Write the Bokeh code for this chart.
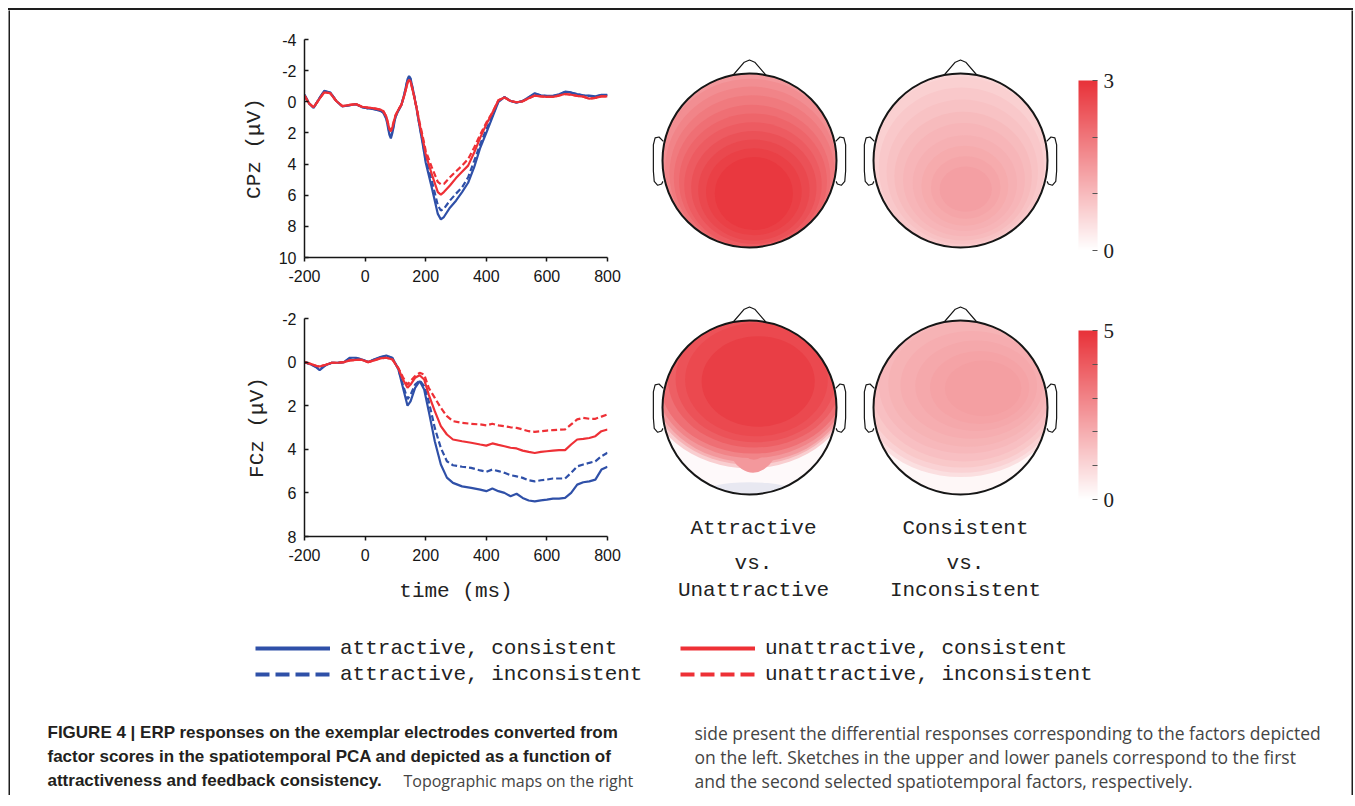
from bokeh.plotting import figure
from bokeh.layouts import column, row
from bokeh.models import (Range1d, SingleIntervalTicker, FixedTicker, LinearColorMapper,
                          ColorBar, Legend, LegendItem, ColumnDataSource, Spacer,
                          PrintfTickFormatter)
from bokeh.core.properties import value
from bokeh.embed import file_html
from bokeh.resources import INLINE

# --- ERP waveforms (uV, positive plotted downwards) ---
t_cpz = [-200, -185, -170, -150, -135, -115, -95, -75, -50, -30,
         -10, 10, 30, 50, 60, 70, 80, 85, 90, 100,
         110, 120, 130, 140, 145, 150, 160, 170, 180, 190,
         200, 220, 240, 250, 260, 280, 300, 320, 340, 360,
         380, 400, 420, 440, 460, 480, 500, 520, 540, 560,
         580, 600, 620, 640, 660, 680, 700, 720, 740, 760,
         780, 800]
cpz_att_con = [-0.45, 0.1, 0.4, -0.25, -0.7, -0.6, -0.05, 0.3, 0.22, 0.15,
               0.35, 0.42, 0.48, 0.58, 0.7, 1.1, 2.1, 2.35, 2.0, 1.0,
               0.55, 0.2, -0.55, -1.45, -1.65, -1.5, -0.6, 0.45, 1.6, 2.7,
               3.9, 5.5, 7.2, 7.55, 7.4, 6.8, 6.35, 5.8, 5.2, 4.2,
               2.95, 2.0, 1.0, 0.0, -0.3, -0.05, 0.05, -0.05, -0.3, -0.55,
               -0.42, -0.38, -0.38, -0.48, -0.65, -0.6, -0.5, -0.42, -0.4, -0.35,
               -0.45, -0.45]
cpz_att_inc = [-0.45, 0.1, 0.38, -0.25, -0.68, -0.58, -0.05, 0.3, 0.22, 0.15,
               0.35, 0.42, 0.47, 0.57, 0.68, 1.05, 1.95, 2.2, 1.9, 0.98,
               0.55, 0.2, -0.52, -1.4, -1.6, -1.45, -0.58, 0.42, 1.55, 2.55,
               3.7, 5.05, 6.65, 6.98, 6.87, 6.34, 5.9, 5.5, 4.85, 3.8,
               2.72, 1.77, 0.9, -0.05, -0.3, -0.05, 0.05, -0.05, -0.28, -0.52,
               -0.4, -0.36, -0.36, -0.46, -0.62, -0.58, -0.48, -0.4, -0.37, -0.33,
               -0.43, -0.43]
cpz_una_con = [-0.4, 0.1, 0.35, -0.2, -0.6, -0.55, -0.05, 0.28, 0.2, 0.15,
               0.32, 0.38, 0.42, 0.5, 0.6, 0.95, 1.75, 1.9, 1.65, 0.9,
               0.5, 0.18, -0.45, -1.2, -1.4, -1.3, -0.5, 0.4, 1.45, 2.35,
               3.35, 4.65, 5.8, 5.96, 5.8, 5.38, 4.9, 4.5, 4.1, 3.26,
               2.3, 1.45, 0.7, -0.1, -0.28, -0.05, 0.03, -0.03, -0.22, -0.4,
               -0.35, -0.32, -0.32, -0.4, -0.5, -0.45, -0.38, -0.33, -0.2, -0.25,
               -0.35, -0.35]
cpz_una_inc = [-0.4, 0.1, 0.35, -0.2, -0.62, -0.55, -0.05, 0.28, 0.2, 0.15,
               0.32, 0.38, 0.42, 0.5, 0.6, 0.95, 1.7, 1.85, 1.6, 0.88,
               0.5, 0.18, -0.45, -1.25, -1.4, -1.3, -0.5, 0.38, 1.35, 2.2,
               3.15, 4.2, 5.15, 5.3, 5.28, 4.85, 4.47, 4.1, 3.68, 2.94,
               2.1, 1.34, 0.7, -0.1, -0.28, -0.05, 0.03, -0.03, -0.22, -0.4,
               -0.35, -0.32, -0.32, -0.4, -0.5, -0.45, -0.38, -0.33, -0.2, -0.25,
               -0.35, -0.35]

t_fcz = [-200, -180, -160, -150, -130, -110, -90, -70, -50, -30,
         -10, 10, 30, 50, 70, 90, 110, 125, 140, 150,
         165, 180, 195, 210, 230, 250, 270, 290, 320, 350,
         380, 400, 420, 440, 460, 480, 500, 520, 540, 560,
         580, 600, 620, 640, 660, 680, 700, 720, 740, 760,
         780, 800]
fcz_att_con = [0.0, 0.1, 0.25, 0.37, 0.14, 0.03, 0.03, 0.0, -0.2, -0.2,
               -0.12, 0.0, -0.12, -0.23, -0.3, -0.2, 0.34, 1.18, 2.0, 1.8,
               1.18, 0.87, 1.26, 2.25, 3.63, 4.7, 5.3, 5.54, 5.7, 5.77,
               5.85, 5.92, 5.8, 5.92, 6.0, 6.15, 6.04, 6.23, 6.35, 6.39,
               6.34, 6.31, 6.26, 6.26, 6.23, 6.0, 5.62, 5.51, 5.47, 5.39,
               4.93, 4.8]
fcz_att_inc = [0.0, 0.1, 0.22, 0.3, 0.14, 0.03, 0.03, 0.0, -0.18, -0.18,
               -0.12, 0.0, -0.12, -0.22, -0.28, -0.18, 0.32, 1.05, 1.7, 1.5,
               1.03, 0.84, 1.1, 1.8, 3.02, 3.94, 4.55, 4.73, 4.8, 4.85,
               4.97, 5.03, 4.93, 5.0, 5.08, 5.19, 5.24, 5.31, 5.42, 5.47,
               5.42, 5.39, 5.34, 5.34, 5.34, 5.08, 4.78, 4.7, 4.62, 4.55,
               4.32, 4.16]
fcz_una_con = [0.0, 0.08, 0.18, 0.2, 0.12, 0.03, 0.03, 0.0, -0.08, -0.1,
               -0.1, 0.0, -0.08, -0.17, -0.2, -0.12, 0.3, 0.8, 1.18, 1.03,
               0.72, 0.6, 0.8, 1.49, 2.25, 2.94, 3.32, 3.55, 3.63, 3.7,
               3.78, 3.83, 3.73, 3.8, 3.86, 3.93, 3.96, 4.06, 4.12, 4.17,
               4.12, 4.09, 4.06, 4.04, 4.04, 3.78, 3.55, 3.52, 3.48, 3.4,
               3.17, 3.09]
fcz_una_inc = [0.0, 0.08, 0.18, 0.2, 0.12, 0.03, 0.03, 0.0, -0.08, -0.1,
               -0.1, 0.0, -0.08, -0.17, -0.2, -0.12, 0.28, 0.7, 1.03, 0.87,
               0.64, 0.49, 0.57, 1.18, 1.64, 2.1, 2.48, 2.71, 2.79, 2.83,
               2.86, 2.9, 2.83, 2.9, 2.94, 2.99, 3.02, 3.09, 3.17, 3.2,
               3.17, 3.14, 3.12, 3.1, 3.09, 2.86, 2.63, 2.56, 2.6, 2.6,
               2.5, 2.4]

conditions = ["attractive, consistent", "attractive, inconsistent",
              "unattractive, consistent", "unattractive, inconsistent"]

# --- scalp maps: iso-levels (centre u,v / radii in head radii, value) ---
tl_u = [0.0, 0.0, 0.01, 0.02, 0.03, 0.03, 0.04, 0.04, 0.05, 0.05, 0.05, 0.05]
tl_v = [0.0, 0.02, 0.06, 0.1, 0.15, 0.2, 0.24, 0.28, 0.31, 0.34, 0.36, 0.38]
tl_rx = [1.3, 1.1, 1.04, 0.99, 0.95, 0.9, 0.85, 0.79, 0.72, 0.64, 0.55, 0.45]
tl_ry = [1.3, 1.08, 1.0, 0.95, 0.9, 0.84, 0.78, 0.72, 0.65, 0.58, 0.5, 0.42]
tl_val = [1.35, 1.5, 1.65, 1.8, 1.95, 2.1, 2.25, 2.4, 2.55, 2.68, 2.8, 2.9]

tr_u = [0.0, 0.0, 0.01, 0.02, 0.03, 0.04, 0.05, 0.05, 0.06, 0.06]
tr_v = [0.0, 0.04, 0.08, 0.13, 0.18, 0.22, 0.26, 0.29, 0.31, 0.33]
tr_rx = [1.3, 1.02, 0.95, 0.87, 0.79, 0.7, 0.6, 0.5, 0.4, 0.3]
tr_ry = [1.3, 1.0, 0.92, 0.83, 0.74, 0.65, 0.55, 0.46, 0.36, 0.26]
tr_val = [0.6, 0.7, 0.8, 0.9, 1.0, 1.08, 1.16, 1.24, 1.32, 1.4]

bl_u = [0.0, 0.0, 0.0, 0.01, 0.02, 0.04, 0.03, 0.05, 0.04, 0.06, 0.07, 0.08, 0.1]
bl_v = [0.0, 0.98, -0.3, -0.31, -0.32, 0.2, -0.33, 0.15, -0.34, -0.34, -0.33, -0.32, -0.3]
bl_rx = [1.3, 0.55, 1.2, 1.17, 1.15, 0.34, 1.12, 0.24, 1.08, 1.0, 0.92, 0.82, 0.65]
bl_ry = [1.3, 0.12, 1.0, 0.97, 0.95, 0.55, 0.91, 0.45, 0.87, 0.8, 0.73, 0.65, 0.52]
bl_val = [0.15, -0.4, 1.2, 1.9, 2.5, 2.5, 3.0, 3.0, 3.5, 3.9, 4.2, 4.45, 4.7]

br_u = [0.0, 0.0, 0.01, 0.02, 0.04, 0.06, 0.09, 0.13, 0.18, 0.22, 0.26]
br_v = [0.0, -0.2, -0.22, -0.24, -0.26, -0.27, -0.27, -0.26, -0.25, -0.23, -0.22]
br_rx = [1.3, 1.2, 1.17, 1.13, 1.07, 1.0, 0.92, 0.82, 0.7, 0.57, 0.44]
br_ry = [1.3, 1.0, 0.97, 0.93, 0.88, 0.8, 0.72, 0.62, 0.52, 0.42, 0.32]
br_val = [0.2, 0.8, 1.1, 1.35, 1.55, 1.72, 1.87, 2.0, 2.12, 2.24, 2.35]

map_titles = ["Attractive", "vs.", "Unattractive", "Consistent", "vs.", "Inconsistent"]

caption_bold = ["FIGURE 4 | ERP responses on the exemplar electrodes converted from",
                "factor scores in the spatiotemporal PCA and depicted as a function of",
                "attractiveness and feedback consistency."]
caption_tail = "Topographic maps on the right"
caption_right = ["side present the differential responses corresponding to the factors depicted",
                 "on the left. Sketches in the upper and lower panels correspond to the first",
                 "and the second selected spatiotemporal factors, respectively."]

BLUE = "#2f50a8"
RED = "#ee3036"
INK = "#161616"
FRAME = "#1e1e1e"
styles = [(BLUE, "solid"), (BLUE, "6 3"), (RED, "solid"), (RED, "6 3")]


def erp_panel(times, curves, y_lo, y_hi, ylabel, left, top, bottom, xlabel=None):
    p = figure(frame_width=303, frame_height=218, min_border_left=left, min_border_right=620 - left - 303,
               min_border_top=top, min_border_bottom=bottom,
               x_range=Range1d(-200, 800), y_range=Range1d(y_hi, y_lo),
               toolbar_location=None, output_backend="svg")
    for ys, (c, d) in zip(curves, styles):
        p.line(times, ys, line_color=c, line_width=2.2, line_dash=d)
    p.xaxis.ticker = SingleIntervalTicker(interval=200, num_minor_ticks=0)
    p.yaxis.ticker = SingleIntervalTicker(interval=2, num_minor_ticks=0)
    for ax in (p.xaxis[0], p.yaxis[0]):
        ax.formatter = PrintfTickFormatter(format="%d")
        ax.axis_line_width = 1.5
        ax.axis_line_color = INK
        ax.major_tick_line_color = INK
        ax.major_tick_line_width = 1.5
        ax.minor_tick_line_color = None
        ax.major_label_text_font = "Liberation Sans"
        ax.major_label_text_font_size = "16px"
        ax.major_label_text_color = INK
        ax.major_label_standoff = 8
        ax.axis_label_text_font = "Liberation Mono"
        ax.axis_label_text_font_style = "normal"
        ax.axis_label_text_font_size = "21px"
        ax.axis_label_text_color = "#222222"
    p.xaxis.major_tick_out = 4
    p.xaxis.major_tick_in = 0
    p.yaxis.major_tick_out = 0
    p.yaxis.major_tick_in = 4
    p.yaxis.axis_label = ylabel
    p.yaxis.axis_label_standoff = 10
    if xlabel:
        p.xaxis.axis_label = xlabel
        p.xaxis.axis_label_standoff = 16
    p.grid.visible = False
    p.outline_line_color = None
    p.background_fill_color = None
    p.border_fill_color = "white"
    return p


erp_top = erp_panel(t_cpz, [cpz_att_con, cpz_att_inc, cpz_una_con, cpz_una_inc],
                    -4, 10, "CPz (μV)", 293, 29, 38)
erp_bot = erp_panel(t_fcz, [fcz_att_con, fcz_att_inc, fcz_una_con, fcz_una_inc],
                    -2, 8, "FCz (μV)", 294, 23, 79, xlabel="time (ms)")


# --- scalp maps panel (coordinates are page pixels) ---
def ramp(c0, c1, n=256):
    return ["#%02x%02x%02x" % tuple(round(a + (b - a) * i / (n - 1)) for a, b in zip(c0, c1))
            for i in range(n)]


reds = ramp((255, 255, 255), (232, 50, 57))
map3 = LinearColorMapper(palette=reds, low=0, high=3, low_color="#e8e8f1", high_color=reds[-1])
map5 = LinearColorMapper(palette=reds, low=0, high=5, low_color="#e8e8f1", high_color=reds[-1])

topo = figure(width=721, height=605, x_range=Range1d(630, 1351), y_range=Range1d(615, 10),
              min_border=0, x_axis_location=None, y_axis_location=None,
              toolbar_location=None, output_backend="svg")
topo.grid.visible = False
topo.outline_line_color = None

R = 87
heads = [((749, 160), (tl_u, tl_v, tl_rx, tl_ry, tl_val), map3),
         ((960, 160), (tr_u, tr_v, tr_rx, tr_ry, tr_val), map3),
         ((749, 407), (bl_u, bl_v, bl_rx, bl_ry, bl_val), map5),
         ((960, 407), (br_u, br_v, br_rx, br_ry, br_val), map5)]

for (cx, cy), (us, vs, rxs, rys, vals), mapper in heads:
    src = ColumnDataSource(dict(x=[cx + u * R for u in us], y=[cy + v * R for v in vs],
                                w=[2 * r * R for r in rxs], h=[2 * r * R for r in rys], val=vals))
    topo.ellipse(x="x", y="y", width="w", height="h", source=src, line_color=None,
                 fill_color={"field": "val", "transform": mapper})

hx = [c[0][0] for c in heads]
hy = [c[0][1] for c in heads]
topo.annulus(x=hx, y=hy, inner_radius=R, outer_radius=119, fill_color="white", line_color=None)
topo.circle(x=hx, y=hy, radius=R, fill_color=None, line_color=INK, line_width=2)

nose = [(-0.19, -0.98), (-0.06, -1.13), (0.0, -1.155), (0.06, -1.13), (0.19, -0.98)]
ear = [(-0.99, -0.22), (-1.04, -0.27), (-1.085, -0.26), (-1.105, -0.18), (-1.105, 0.12),
       (-1.095, 0.24), (-1.055, 0.285), (-1.01, 0.27), (-0.995, 0.24)]
xs, ys = [], []
for cx, cy in zip(hx, hy):
    for shape, sgn in ((nose, 1), (ear, 1), (ear, -1)):
        xs.append([cx + sgn * u * R for u, v in shape])
        ys.append([cy + v * R for u, v in shape])
topo.multi_line(xs, ys, line_color=INK, line_width=1.2)

topo.text(x=[753, 753, 753, 965, 965, 965], y=[528, 563, 590, 528, 563, 590], text=map_titles,
          text_font=value("Liberation Mono"), text_font_size="21px", text_color="#222222",
          text_align="center", text_baseline="middle")

for mapper, top_val, loc, h in ((map3, 3, (448, 365), 170), (map5, 5, (448, 116), 169)):
    cb = ColorBar(color_mapper=mapper, ticker=FixedTicker(ticks=list(range(top_val + 1))),
                  major_label_overrides={k: "" for k in range(1, top_val)},
                  width=19, height=h, location=loc, padding=0, margin=0, label_standoff=6,
                  major_label_text_font="Liberation Serif", major_label_text_font_size="21px",
                  major_label_text_color="#222222", major_tick_line_color="#555555",
                  major_tick_in=5, major_tick_out=0, minor_tick_line_color=None,
                  bar_line_color=None, border_line_color=None, background_fill_alpha=0)
    topo.add_layout(cb)

# --- legend strip ---
leg_fig = figure(width=1341, height=80, x_range=Range1d(0, 1), y_range=Range1d(0, 1),
                 min_border=0, x_axis_location=None, y_axis_location=None,
                 toolbar_location=None, output_backend="svg")
leg_fig.grid.visible = False
leg_fig.outline_line_color = None
leg_lines = []
for c, d in styles:
    # a segment far outside the visible range, so only the legend swatch shows
    leg_lines.append(leg_fig.line(x=[-5, -4], y=[-5, -5], line_color=c, line_width=4,
                                  line_dash="14 6" if d != "solid" else "solid"))
for pair, loc in (((0, 1), (245, 8)), ((2, 3), (670, 8))):
    leg = Legend(items=[LegendItem(label=conditions[i], renderers=[leg_lines[i]]) for i in pair],
                 location=loc, orientation="vertical", glyph_width=75, glyph_height=26,
                 label_height=26, label_standoff=10, spacing=0, padding=0, margin=0,
                 border_line_color=None, background_fill_alpha=0,
                 label_text_font="Liberation Mono", label_text_font_size="21px",
                 label_text_color="#222222")
    leg_fig.add_layout(leg)

# --- caption ---
cap = figure(width=1341, height=100, x_range=Range1d(0, 1341), y_range=Range1d(100, 0),
             min_border=0, x_axis_location=None, y_axis_location=None,
             toolbar_location=None, output_backend="svg")
cap.grid.visible = False
cap.outline_line_color = None
cap.text(x=[37, 37, 37], y=[37, 61, 85], text=caption_bold, text_font=value("Liberation Sans"),
         text_font_style="bold", text_font_size="17px", text_color="#231f20", text_baseline="middle")
cap.text(x=[393], y=[85], text=[caption_tail], text_font=value("Open Sans"),
         text_font_size="16px", text_color="#444444", text_baseline="middle")
cap.text(x=[684, 684, 684], y=[37, 61, 85], text=caption_right, text_font=value("Open Sans"),
         text_font_size="17.5px", text_color="#444444", text_baseline="middle")


# --- thin dark strips make the frame around the figure ---
def strip(w, h):
    s = figure(width=w, height=h, min_border=0, x_axis_location=None, y_axis_location=None,
               toolbar_location=None, output_backend="svg")
    s.grid.visible = False
    s.outline_line_color = None
    s.background_fill_color = FRAME
    s.border_fill_color = FRAME
    return s


content = column(row(column(erp_top, erp_bot), topo), leg_fig, cap)
top_edge = Spacer(width=1345, height=2, styles={"background-color": FRAME})
framed = column(top_edge, row(strip(2, 785), content, strip(2, 785)))
p = column(Spacer(width=1353, height=8), row(Spacer(width=8, height=787), framed))

open("out.html", "w").write(file_html(p, INLINE))
